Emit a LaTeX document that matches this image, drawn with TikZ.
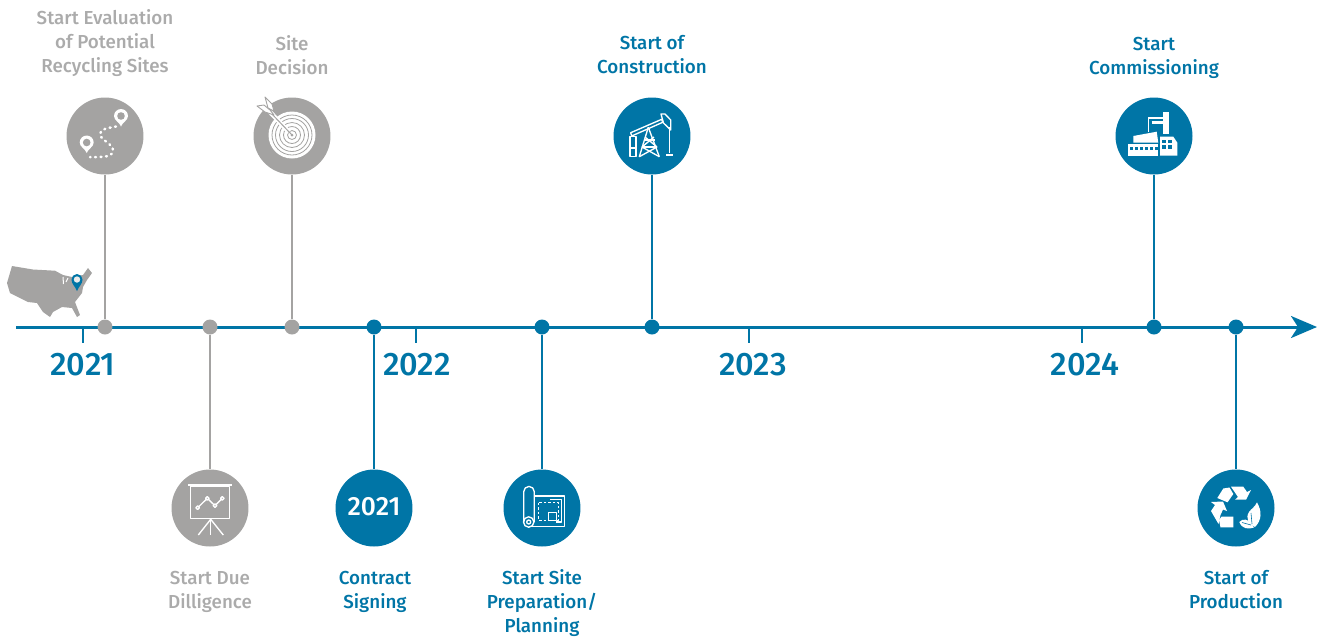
\documentclass[tikz,border=0pt]{standalone}
\usepackage{fontspec}
\usepackage{tikz}
\usetikzlibrary{arrows.meta}
\setmainfont{Fira Sans}
\newfontfamily\labelfont{Fira Sans Medium}
\definecolor{lineblue}{HTML}{0075A6}
\definecolor{dotgray}{HTML}{A4A3A2}
\definecolor{textgray}{HTML}{ABABAB}

\begin{document}
\begin{tikzpicture}[x=0.02cm,y=-0.02cm,
  bigdot/.style={circle,fill=#1,draw=none,minimum size=0.77*2cm,inner sep=0pt},
  smalldot/.style={circle,fill=#1,draw=none,minimum size=0.3cm,inner sep=0pt},
  stem/.style={#1,line width=0.04cm},
  caption/.style={text=#1,align=center,font=\labelfont\fontsize{10.7}{13.6}\selectfont},
  year/.style={text=lineblue,font=\labelfont\fontsize{18.5}{20}\selectfont},
  icon/.style={white,line width=0.027cm,line join=round}]
\useasboundingbox (0,0) rectangle (1319,637);

% the time axis
\coordinate (axisL) at (16,327);
\coordinate (axisR) at (1317,327);
\draw[lineblue,line width=0.06cm,-{Stealth[length=0.52cm,width=0.44cm,inset=0.14cm]}] (axisL) -- (axisR);

\coordinate (tickA) at (83,327);
\coordinate (tickAe) at (83,343);
\coordinate (tickB) at (416,327);
\coordinate (tickBe) at (416,343);
\coordinate (tickC) at (749,327);
\coordinate (tickCe) at (749,343);
\coordinate (tickD) at (1082,327);
\coordinate (tickDe) at (1082,343);
\draw[lineblue,line width=0.03cm] (tickA) -- (tickAe);
\draw[lineblue,line width=0.03cm] (tickB) -- (tickBe);
\draw[lineblue,line width=0.03cm] (tickC) -- (tickCe);
\draw[lineblue,line width=0.03cm] (tickD) -- (tickDe);

\node[year] (yearA) at (83,365) {2021};
\node[year] (yearB) at (417,365) {2022};
\node[year] (yearC) at (753,365) {2023};
\node[year] (yearD) at (1085,365) {2024};

% map of the country
\fill[dotgray] (12,266) -- (33,269.5) -- (55,270.7) -- (63,275) -- (72,277) -- (83,275) -- (88,268) -- (92,273)
  -- (87,280) -- (83,287) -- (82,293) -- (75,302) -- (80,315) -- (77,317) -- (72,308) -- (62,307)
  -- (53,312) -- (50,317) -- (43,312) -- (37,303) -- (28,302) -- (20,298) -- (10,293) -- (7,283) -- cycle;
\draw[white,line width=0.02cm] (63,277) -- (63.5,284);
\draw[white,line width=0.02cm] (68,278) -- (66,282);
\fill[lineblue] (77,291) .. controls (75,286) and (71.5,284) .. (71.5,279.5)
  arc[start angle=180,end angle=360,radius=5.5] .. controls (82.5,284) and (79,286) .. (77,291) -- cycle;
\fill[white!80!dotgray] (77,279.5) circle[radius=3.2];

% milestones above the axis
\node[bigdot=dotgray] (iconA) at (105,136) {};
\node[bigdot=dotgray] (iconC) at (292,136) {};
\node[bigdot=lineblue] (iconF) at (652,136) {};
\node[bigdot=lineblue] (iconG) at (1154,136) {};

% milestones below the axis
\node[bigdot=dotgray] (iconB) at (210,508) {};
\node[bigdot=lineblue,text=white,font=\labelfont\fontsize{15}{17}\selectfont] (iconD) at (374,508) {\raisebox{1.2pt}{2021}};
\node[bigdot=lineblue] (iconE) at (542,508) {};
\node[bigdot=lineblue] (iconH) at (1236,508) {};

\node[smalldot=dotgray] (dotA) at (105,327) {};
\node[smalldot=dotgray] (dotB) at (210,327) {};
\node[smalldot=dotgray] (dotC) at (292,327) {};
\node[smalldot=lineblue] (dotD) at (374,327) {};
\node[smalldot=lineblue] (dotE) at (542,327) {};
\node[smalldot=lineblue] (dotF) at (652,327) {};
\node[smalldot=lineblue] (dotG) at (1154,327) {};
\node[smalldot=lineblue] (dotH) at (1236,327) {};

\draw[stem=dotgray] (iconA) -- (dotA);
\draw[stem=dotgray] (dotB) -- (iconB);
\draw[stem=dotgray] (iconC) -- (dotC);
\draw[stem=lineblue] (dotD) -- (iconD);
\draw[stem=lineblue] (dotE) -- (iconE);
\draw[stem=lineblue] (iconF) -- (dotF);
\draw[stem=lineblue] (iconG) -- (dotG);
\draw[stem=lineblue] (dotH) -- (iconH);

\node[caption=textgray] (textA) at (105,43) {Start Evaluation\\of Potential\\Recycling Sites};
\node[caption=textgray] (textB) at (210,591.5) {Start Due\\Dilligence};
\node[caption=textgray] (textC) at (292,55.5) {Site\\Decision};
\node[caption=lineblue] (textD) at (375,591.5) {Contract\\Signing};
\node[caption=lineblue] (textE) at (542,603) {Start Site\\Preparation/\\Planning};
\node[caption=lineblue] (textF) at (652,54.5) {Start of\\Construction};
\node[caption=lineblue] (textG) at (1154,57.5) {Start\\Commissioning};
\node[caption=lineblue] (textH) at (1236,589.5) {Start of\\Production};

% route icon
\draw[white,line width=0.05cm,line cap=round,dash pattern=on 0.02cm off 0.09cm]
  (116,126.5) .. controls (108,128) and (100,129) .. (100,134)
  .. controls (100,140) and (114,144) .. (113,151) .. controls (112,158) and (100,157) .. (90,157);
\fill[white] (121,126.5) .. controls (119.5,122) and (114,120.5) .. (114,116)
  arc[start angle=180,end angle=360,radius=7] .. controls (128,120.5) and (122.5,122) .. (121,126.5) -- cycle;
\fill[dotgray] (121,116) circle[radius=3.8];
\fill[white] (86.7,153) .. controls (85.2,148.5) and (79.7,147) .. (79.7,142.5)
  arc[start angle=180,end angle=360,radius=7] .. controls (93.7,147) and (88.2,148.5) .. (86.7,153) -- cycle;
\fill[dotgray] (86.7,142.5) circle[radius=3.8];

% target icon
\fill[white] (292,135) circle[radius=23.5];
\foreach \r in {4.5,8.5,12.5,16.5,20}
  \draw[dotgray,line width=0.016cm] (292,135) circle[radius=\r];
\fill[dotgray] (292,135) circle[radius=1.5];
\draw[white,line width=0.09cm] (289,132) -- (270,112);
\draw[dotgray,line width=0.02cm] (292,135) -- (270,112);
\filldraw[fill=white,draw=dotgray,line width=0.018cm,line join=round]
  (265,97) -- (272,104) -- (274,111) -- (268,108) -- cycle;
\filldraw[fill=white,draw=dotgray,line width=0.018cm,line join=round]
  (257,106) -- (264,105) -- (270,110) -- (274,115) -- (265,112) -- cycle;

% presentation icon
\begin{scope}[icon]
\draw (188.3,485) -- (231.7,485);
\draw (190.7,486.7) rectangle (229.3,518.3);
\draw (210.7,519.3) -- (198.3,535);
\draw (210.7,519.3) -- (223.3,535);
\draw (210.7,519.3) -- (210.7,535);
\draw (197.7,507.7) -- (207.3,498.3) -- (215,505.7) -- (222.3,498.3);
\filldraw[fill=dotgray] (197.7,507.7) circle[radius=1.8];
\filldraw[fill=dotgray] (207.3,498.3) circle[radius=1.8];
\filldraw[fill=dotgray] (215,505.7) circle[radius=1.8];
\filldraw[fill=dotgray] (222.3,498.3) circle[radius=1.8];
\end{scope}

% blueprint icon
\begin{scope}[icon,shift={(542,508)}]
\draw (-18.3,14) -- (-18.3,-16.3) arc[start angle=180,end angle=360,radius=5.3] -- (-7.7,14);
\draw (-7.7,-12) -- (22.7,-12) -- (22.7,18.3) -- (-13,18.3);
\draw (-13.3,14) circle[radius=5.2];
\draw (-13.3,14) circle[radius=2];
\draw[dash pattern=on 0.05cm off 0.04cm] (-3.3,-5.3) rectangle (16.7,12.3);
\draw (6.7,4.7) rectangle (14.3,12.3);
\draw (8.3,-8.3) -- (19.3,-8.3) -- (19.3,14) -- (14,14);
\end{scope}

% pumpjack icon
\begin{scope}[icon,shift={(652,136)}]
\draw (-21.3,-3.3) -- (9.7,-16.7) -- (10.7,-13.7) -- (-20.3,0) -- cycle;
\draw (9,-22) -- (13,-22) -- (18.7,-16) -- (18.7,-6) -- (11.5,-13) -- cycle;
\draw (17.3,-9) -- (17.3,17.3);
\draw (14,19) -- (21.3,19);
\draw (-22,0.7) -- (-16,0.7) -- (-16,20.7) -- (-22,20.7) -- cycle;
\draw (-22,12) -- (-16,12);
\draw (-3.7,-8.7) -- (-12.7,20.7);
\draw (-3.7,-8.7) -- (7.3,20.7);
\draw (-8,4) -- (3,4);
\draw (-10,11) -- (5,11);
\draw (-7,1) -- (5,11);
\draw (2,1) -- (-10,11);
\draw (-10,11) -- (7.3,20.7);
\draw (5,11) -- (-12.7,20.7);
\end{scope}

% factory icon
\begin{scope}[shift={(1154,136)}]
\fill[white] (9.3,-24.3) rectangle (15.3,-2);
\draw[white,line width=0.03cm] (9.3,-18) -- (-5.7,-18) -- (-5.7,-4.5);
\draw[white,line width=0.05cm] (-2.3,-13.5) -- (9.3,-13.5);
\fill[white] (-20.7,6.7) -- (-20.7,0) -- (2.7,-4.3) -- (4.3,6.7) -- cycle;
\fill[white] (-25.7,8.3) rectangle (4.3,19.7);
\foreach \x in {-24.5,-19.5,-14.5,-9.5,-4.5,0.5}
  \fill[lineblue] (\x,10.7) rectangle +(3.4,3.4);
\fill[white] (6,0.7) -- (19.3,0.7) -- (23.3,6.7) -- (23.3,19.7) -- (6,19.7) -- cycle;
\fill[lineblue] (8.3,4) rectangle (11.7,7.3);
\fill[lineblue] (14.3,4) rectangle (17.7,7.3);
\fill[lineblue] (8.3,9) rectangle (11.7,13);
\fill[lineblue] (14.3,9) rectangle (17.7,13);
\end{scope}

% recycling icon
\begin{scope}[shift={(1236,508)}]
\fill[white] (-18.7,-10) -- (-12.7,-19.5) -- (-6.5,-20.5) -- (-2.7,-14) -- (-8.5,-5.7) -- cycle;
\fill[white] (-5,-21.3) -- (7.3,-21.3) -- (11,-16) -- (15,-18) -- (10,-8.3) -- (-1,-8.3) -- (2,-11) -- cycle;
\fill[white] (-25,-6) -- (-13,-6.5) -- (-9,3) -- (-13,1.5) -- (-15.5,7) -- (-17.5,16) -- (-25,3) -- (-21,-3) -- cycle;
\fill[white] (-15.5,19.3) -- (-2.7,19.3) -- (-2.7,8.7) -- (-14.5,8.7) -- (-17,12) -- cycle;
\fill[white] (21,-5.7) .. controls (26,3) and (26,12) .. (19,19) .. controls (13,17) and (9,10) .. (13,4) .. controls (15,1) and (19,-1) .. (21,-5.7) -- cycle;
\fill[white] (3.3,14) .. controls (7,10) and (12,10) .. (18,19.5) .. controls (12,21.5) and (6,21) .. (3.3,14) -- cycle;
\draw[lineblue,line width=0.012cm] (15,5) -- (16,16);
\draw[lineblue,line width=0.012cm] (6,14.5) -- (15,17);
\end{scope}
\end{tikzpicture}
\end{document}
